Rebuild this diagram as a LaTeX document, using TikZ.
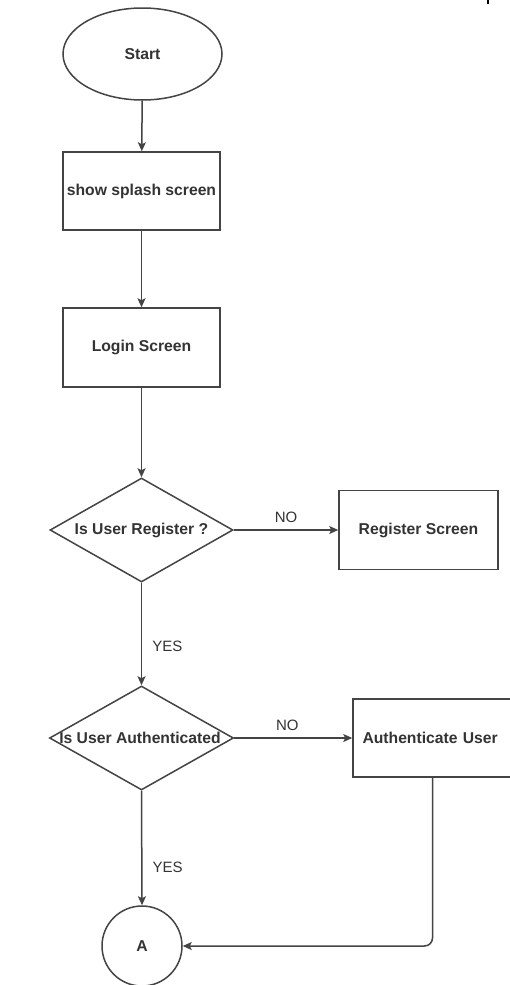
\documentclass[tikz,border=0pt]{standalone}
\usepackage{fontspec}
\setmainfont{Liberation Sans}
\usetikzlibrary{shapes.geometric,arrows.meta}
\definecolor{linec}{HTML}{444444}
\definecolor{textc}{HTML}{333333}
\tikzset{
  box/.style={draw=linec, line width=1.5pt, rectangle, inner sep=0pt, text=textc, font=\bfseries\fontsize{15.7}{18}\selectfont},
  decision/.style={draw=linec, line width=1.5pt, diamond, inner sep=0pt},
  dtext/.style={text=textc, font=\bfseries\fontsize{15.7}{18}\selectfont, inner sep=0pt},
  lbl/.style={text=textc, font=\fontsize{15}{18}\selectfont, inner sep=0pt},
  flow/.style={draw=linec, line width=1.5pt, -{Stealth[length=9pt,width=8pt,inset=2pt]}}
}
\begin{document}
\begin{tikzpicture}[x=1pt,y=-1pt]
\useasboundingbox (0,0) rectangle (509,985);
\fill[white] (0,0) rectangle (509,985);
\draw[black, line width=1.2pt] (488,0) -- (488,4);

\node[box, ellipse, minimum width=159, minimum height=92] (start) at (142.5,54) {Start};
\node[box, minimum width=157, minimum height=78] (splash) at (141.5,191) {show splash screen};
\node[box, minimum width=157, minimum height=79] (login) at (141.5,347.5) {Login Screen};
\node[decision, minimum width=183, minimum height=104] (d1) at (141.5,530) {};
\node[dtext] (d1t) at (d1) {Is User Register ?};
\node[box, minimum width=159, minimum height=79] (reg) at (418.5,530) {Register Screen};
\node[decision, minimum width=184, minimum height=104] (d2) at (141.5,738) {};
\node[dtext] (d2t) at (140,738) {Is User Authenticated};
\node[box, minimum width=159, minimum height=78, text width=140, align=left] (auth) at (432.5,738) {Authenticate User};
\node[box, circle, minimum size=80] (a) at (142,946) {A};

\draw[flow] (start) -- (splash);
\draw[flow] (splash) -- (login);
\draw[flow] (login) -- (d1.north);
\draw[flow] (d1.east) -- node[lbl, above=7pt, pos=0.5] (no1) {NO} (reg.west);
\draw[flow] (d1.south) -- node[lbl, right=10pt, pos=0.62] (yes1) {YES} (d2.north);
\draw[flow] (d2.east) -- node[lbl, above=7pt, pos=0.45] (no2) {NO} (auth.west);
\draw[flow] (d2.south) -- node[lbl, right=10pt, pos=0.67] (yes2) {YES} (a.north);
\draw[flow, rounded corners=8pt] (auth.south) |- (a.east);
\end{tikzpicture}
\end{document}
